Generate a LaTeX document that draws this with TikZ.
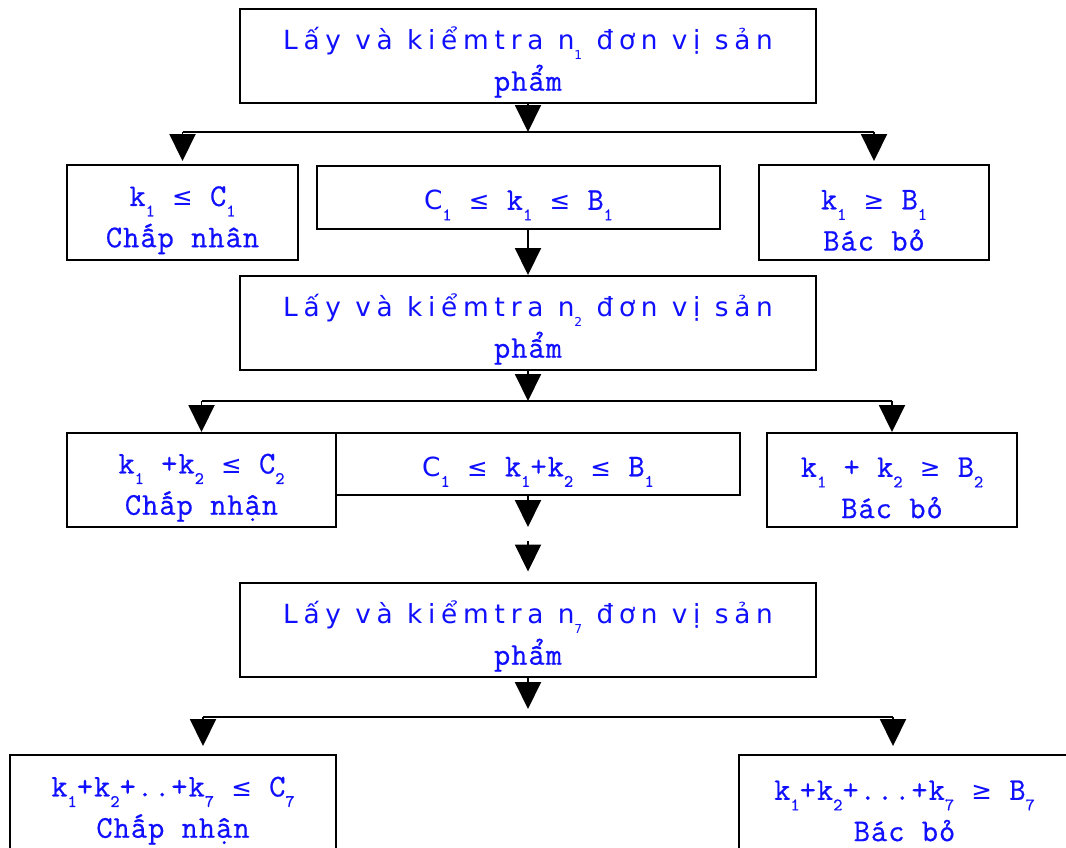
\documentclass[tikz,border=0pt]{standalone}
\usepackage{fontspec}
\setmonofont{Latin Modern Mono}[LetterSpace=3, FakeBold=0.6]
\newfontfamily\vnsans{DejaVu Sans}[LetterSpace=22]
\newfontfamily\vnsym{DejaVu Sans}
\usetikzlibrary{arrows.meta}
\definecolor{txtblue}{RGB}{16,16,255}
\newcommand{\tstrut}{\rule{0pt}{20pt}}
\newcommand{\sub}[1]{\raisebox{-6pt}{\fontsize{10}{10}\selectfont #1}}
\newcommand{\ssub}[1]{\raisebox{-6pt}{\fontsize{7}{7}\selectfont #1}}
\newcommand{\hd}[1]{{\vnsans\fontsize{15}{23.2}\selectfont #1}}
\newcommand{\lte}{{\vnsym\fontsize{14}{14}\selectfont ≤}}
\newcommand{\gte}{{\vnsym\fontsize{14}{14}\selectfont ≥}}
\tikzset{
  box/.style={draw, line width=1.1pt, align=center, text=txtblue, inner sep=0pt,
    font={\ttfamily\fontsize{18}{23.5}\selectfont}},
  arr/.style={-{Triangle[width=0.52cm,length=0.54cm]}, line width=1.1pt},
}
\begin{document}
\begin{tikzpicture}[x=0.2mm, y=-0.2mm]
  \useasboundingbox (0,0) rectangle (1066,848);
  \node[box, minimum width=11.52cm, minimum height=1.88cm] (lay1) at (528,56)
    {\tstrut\hd{Lấy và kiểmtra n\ssub{1} đơn vị sản}\\phẩm};
  \node[box, minimum width=4.62cm, minimum height=1.9cm] (acc1) at (182.5,212.5)
    {\tstrut k\sub{1} \lte{} C\sub{1}\\Chấp nhân};
  \node[box, minimum width=8.06cm, minimum height=1.26cm] (mid1) at (518.5,197.5)
    {\tstrut\hd{C}\sub{1} \lte{} k\sub{1} \lte{} B\sub{1}};
  \node[box, minimum width=4.6cm, minimum height=1.9cm] (rej1) at (874,212.5)
    {\tstrut k\sub{1} \gte{} B\sub{1}\\Bác bỏ};
  \node[box, minimum width=11.52cm, minimum height=1.88cm] (lay2) at (528,323)
    {\tstrut\hd{Lấy và kiểmtra n\ssub{2} đơn vị sản}\\phẩm};
  \node[box, minimum width=5.38cm, minimum height=1.88cm] (acc2) at (201.5,480)
    {\tstrut k\sub{1} +k\sub{2} \lte{} C\sub{2}\\Chấp nhận};
  \node[box, minimum width=8.08cm, minimum height=1.24cm] (mid2) at (538,464)
    {\tstrut\hd{C}\sub{1} \lte{} k\sub{1}+k\sub{2} \lte{} B\sub{1}};
  \node[box, minimum width=5cm, minimum height=1.88cm] (rej2) at (892,480)
    {\tstrut k\sub{1} + k\sub{2} \gte{} B\sub{2}\\Bác bỏ};
  \node[box, minimum width=11.52cm, minimum height=1.88cm] (lay3) at (528,630)
    {\tstrut\hd{Lấy và kiểmtra n\ssub{7} đơn vị sản}\\phẩm};
  \node[box, minimum width=6.52cm, minimum height=1.92cm] (acc3) at (173,803)
    {\tstrut k\sub{1}+k\sub{2}+..+k\sub{7} \lte{} C\sub{7}\\Chấp nhận};
  \node[box, minimum width=6.62cm, minimum height=1.92cm] (rej3) at (904.5,803)
    {\tstrut k\sub{1}+k\sub{2}+...+k\sub{7} \gte{} B\sub{7}\\Bác bỏ};

  \coordinate (j1) at (528,132);
  \coordinate (j2) at (528,401);
  \coordinate (brk1) at (528,527);
  \coordinate (brk2) at (528,541);
  \coordinate (j3) at (528,717);
  \coordinate (l3) at (203,717);
  \coordinate (r3) at (893,717);

  \draw[arr] (lay1) -- (j1);
  \draw[line width=1.1pt] (acc1.north |- j1) -- (rej1.north |- j1);
  \draw[arr, shorten >=0.06cm] (acc1.north |- j1) -- (acc1.north);
  \draw[arr, shorten >=0.06cm] (rej1.north |- j1) -- (rej1.north);
  \draw[arr] (lay2.north |- mid1.south) -- (lay2.north);

  \draw[arr] (lay2) -- (j2);
  \draw[line width=1.1pt] (acc2.north |- j2) -- (rej2.north |- j2);
  \draw[arr] (acc2.north |- j2) -- (acc2.north);
  \draw[arr] (rej2.north |- j2) -- (rej2.north);
  \draw[arr] (lay3.north |- mid2.south) -- (brk1);
  \draw[arr, shorten >=0.21cm] (brk2) -- (lay3.north);

  \draw[arr, shorten >=0.16cm] (lay3) -- (j3);
  \draw[line width=1.1pt] (l3) -- (r3);
  \draw[arr, shorten >=0.16cm] (l3) -- (l3 |- acc3.north);
  \draw[arr, shorten >=0.16cm] (r3) -- (r3 |- rej3.north);
\end{tikzpicture}
\end{document}
